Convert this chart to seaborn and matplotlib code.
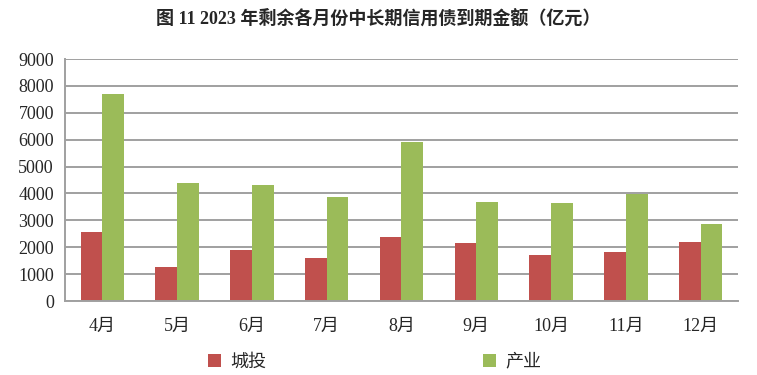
import pandas as pd
import matplotlib
matplotlib.use('Agg')
import matplotlib.pyplot as plt
import seaborn as sns

# %%

months = ['4月', '5月', '6月', '7月', '8月', '9月', '10月', '11月', '12月']
chengtou = [2580, 1280, 1880, 1600, 2380, 2150, 1700, 1820, 2190]
chanye = [7700, 4390, 4310, 3870, 5910, 3690, 3650, 3990, 2850]
series_names = ['城投', '产业']

df = pd.DataFrame({
    'month': months * 2,
    'value': chengtou + chanye,
    'type': [series_names[0]] * len(months) + [series_names[1]] * len(months),
})

# %%

sns.set_style('white')
plt.rcParams['font.family'] = ['Liberation Serif', 'Noto Sans CJK SC', 'DejaVu Sans']

fig = plt.figure(figsize=(7.57, 3.75), dpi=100)
ax = fig.add_axes([65 / 757, 1 - 301 / 375, (738 - 65) / 757, (301 - 59) / 375])

sns.barplot(data=df, x='month', y='value', hue='type',
            palette=['#C0504D', '#9BBB59'], width=0.58, saturation=1,
            edgecolor='none', ax=ax)

ax.set_ylim(0, 9000)
ax.set_xlim(-0.5, len(months) - 0.5)
ax.set_yticks(range(0, 9001, 1000))
ax.yaxis.grid(True, color='#A0A0A0', linewidth=1.4)
ax.set_axisbelow(True)

for s in ['top', 'right']:
    ax.spines[s].set_visible(False)
for s in ['left', 'bottom']:
    ax.spines[s].set_color('#A0A0A0')
    ax.spines[s].set_linewidth(1.4)

ax.set_xticks([i + 0.5 for i in range(-1, len(months))], minor=True)
ax.tick_params(axis='x', which='minor', length=6, width=1.2, color='#A0A0A0', direction='out')
ax.tick_params(axis='x', which='major', length=0, pad=12, labelsize=13)
ax.tick_params(axis='y', length=5, width=1.2, color='#A0A0A0', direction='out', labelsize=13, pad=3)
ax.set_xlabel('')
ax.set_ylabel('')

fig.suptitle('图 11 2023 年剩余各月份中长期信用债到期金额（亿元）',
             x=0.5, y=0.975, fontsize=13, fontweight='bold')

ax.legend(loc='upper center', bbox_to_anchor=(0.46, -0.15), ncol=2, frameon=False,
          fontsize=13, columnspacing=12, handlelength=0.75, handleheight=0.75,
          handletextpad=0.5)

plt.savefig('out.png', dpi=100)
